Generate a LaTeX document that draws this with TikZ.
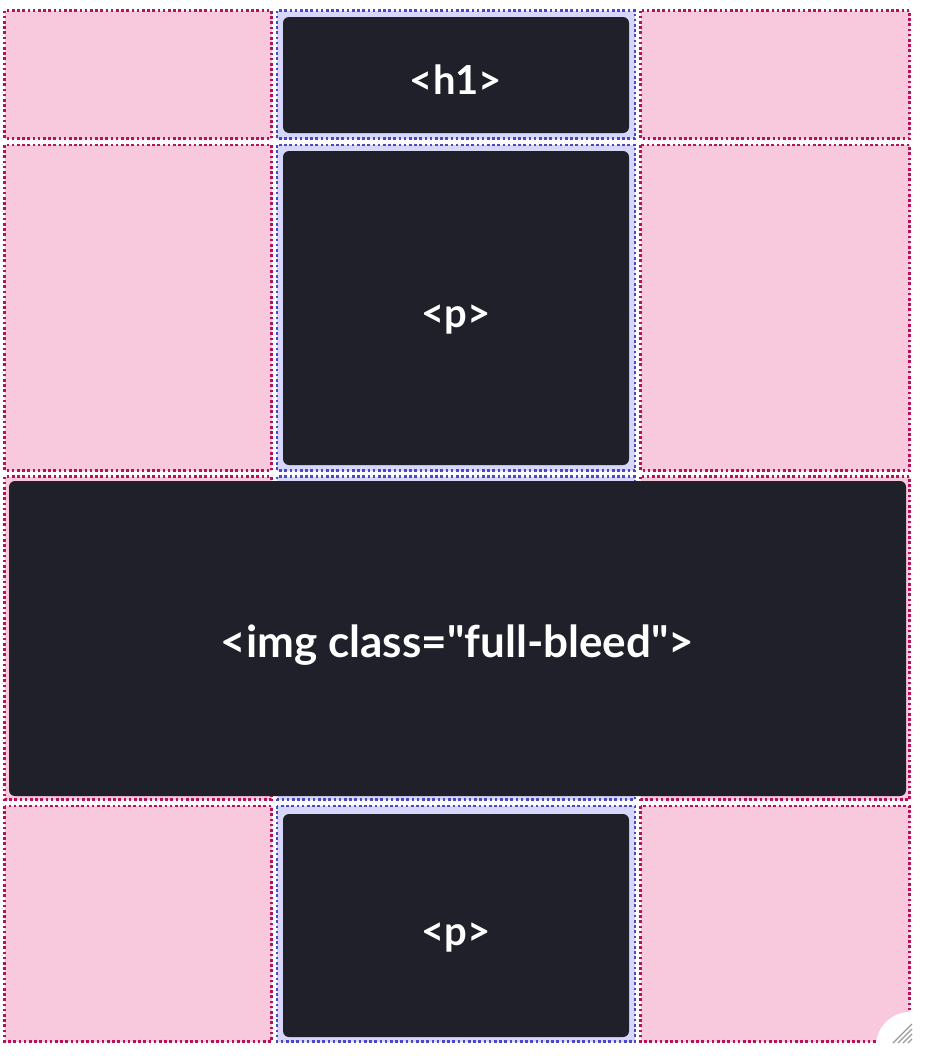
\documentclass[tikz,border=0pt]{standalone}
\usepackage{fontspec}
\setmainfont{Lato}
\newfontfamily\labfont{Lato}
\definecolor{pinkfill}{HTML}{F8C9DD}
\definecolor{reddot}{HTML}{B8105A}
\definecolor{lavfill}{HTML}{D7D7FC}
\definecolor{bluedot}{HTML}{4A48C8}
\definecolor{darkbg}{HTML}{1F2029}
\definecolor{handlegray}{HTML}{9A9A9A}
\tikzset{
  pinkcell/.style={fill=pinkfill, draw=reddot, line width=2.6pt, dash pattern=on 2.6pt off 2.6pt},
  blucell/.style={fill=lavfill, draw=bluedot, line width=2.6pt, dash pattern=on 2.6pt off 2.6pt},
  darkbox/.style={fill=darkbg, rounded corners=6pt, text=white, font=\labfont\fontsize{40}{44}\selectfont\bfseries, inner sep=0pt, text height=39pt, text depth=0pt},
}
\begin{document}
\begin{tikzpicture}[x=1pt,y=-1pt]
\useasboundingbox[fill=white] (0,0) rectangle (936,1060);
% grid cells
\path[pinkcell] (4.5,10.5) rectangle (271.5,138.5);
\path[blucell]  (277,10.5) rectangle (635,138.5);
\path[pinkcell] (640.5,10.5) rectangle (909.5,138.5);
\path[pinkcell] (4.5,145) rectangle (271.5,470.5);
\path[blucell]  (277,145) rectangle (635,470.5);
\path[pinkcell] (640.5,145) rectangle (909.5,470.5);
\path[pinkcell] (4.5,476.5) rectangle (271.5,799.5);
\path[blucell]  (277,476.5) rectangle (635,799.5);
\path[pinkcell] (640.5,476.5) rectangle (909.5,799.5);
\path[pinkcell] (4.5,806) rectangle (271.5,1041.5);
\path[blucell]  (277,806) rectangle (635,1041.5);
\path[pinkcell] (640.5,806) rectangle (909.5,1041.5);
% elements
\node[darkbox, minimum width=346pt, minimum height=116pt] (h1) at (456,75) {<h1>};
\node[darkbox, minimum width=346pt, minimum height=314pt] (p1) at (456,308) {<p>};
\node[darkbox, minimum width=897pt, minimum height=315pt, font=\labfont\fontsize{44}{48}\selectfont\bfseries, text height=37pt] (img) at (457.5,638.5) {<img class="full-bleed">};
\node[darkbox, minimum width=346pt, minimum height=223pt] (p2) at (456,925.5) {<p>};
% resize handle
\begin{scope}
\clip (860,990) rectangle (936,1060);
\fill[white] (910,1046) circle (34pt);
\end{scope}
\foreach \k in {0,5,10,15} {
  \draw[handlegray, line width=1.2pt] (893+\k,1043) -- (912,1024+\k);
}
\end{tikzpicture}
\end{document}
